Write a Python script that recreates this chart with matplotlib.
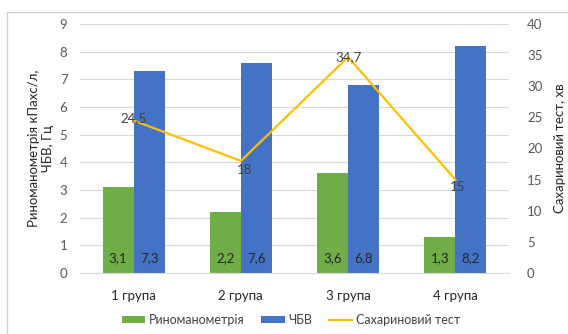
import numpy as np
import matplotlib.pyplot as plt
from matplotlib.patches import Rectangle

groups = ['1 група', '2 група', '3 група', '4 група']
rino = [3.1, 2.2, 3.6, 1.3]
chbv = [7.3, 7.6, 6.8, 8.2]
sakh = [24.5, 18, 34.7, 15]

green = '#70AD47'
blue = '#4472C4'
gold = '#FFC000'
txt = '#595959'

plt.rcParams['font.family'] = ['Lato', 'DejaVu Sans']
plt.rcParams['font.size'] = 9

fig = plt.figure(figsize=(5.68, 3.34), dpi=100)
fig.patches.append(Rectangle((7 / 568, -0.1), 1.2, (334 - 12) / 334 + 0.1,
                             transform=fig.transFigure, fill=False,
                             edgecolor='#d0d0d0', linewidth=1))

ax = fig.add_axes([80 / 568, 61 / 334, 429 / 568, 249 / 334])
x = np.arange(len(groups))
w = 0.29

b1 = ax.bar(x - w / 2, rino, w, color=green, label='Риноманометрія', zorder=2)
b2 = ax.bar(x + w / 2, chbv, w, color=blue, label='ЧБВ', zorder=2)
for bars, vals in ((b1, rino), (b2, chbv)):
    for r, v in zip(bars, vals):
        ax.text(r.get_x() + r.get_width() / 2, 0.55, f'{v}'.replace('.', ','),
                ha='center', va='center', color='#262626', fontsize=9.5, zorder=5)

ax.set_xlim(-0.5, 3.5)
ax.set_ylim(0, 9)
ax.set_yticks(range(10))
ax.set_xticks(x)
ax.set_xticklabels(groups, fontsize=9.5, color='#262626')
ax.grid(axis='y', color='#d9d9d9', linewidth=0.8, zorder=0)
ax.set_axisbelow(True)
for s in ('top', 'right', 'left'):
    ax.spines[s].set_visible(False)
ax.spines['bottom'].set_color('#d9d9d9')
ax.tick_params(axis='both', length=0, colors=txt, labelsize=9.5)
ax.tick_params(axis='x', pad=12, labelcolor='#262626')
ax.tick_params(axis='y', pad=9)
ax.set_ylabel('Риноманометрія кПахс/л,\nЧБВ, Гц', color='#262626', fontsize=9.5, labelpad=4)

ax2 = ax.twinx()
ln, = ax2.plot(x, sakh, color=gold, linewidth=1.6, label='Сахариновий тест', zorder=3)
ax2.set_ylim(0, 40)
ax2.set_yticks(range(0, 41, 5))
for s in ('top', 'right', 'left', 'bottom'):
    ax2.spines[s].set_visible(False)
ax2.tick_params(axis='y', length=0, colors=txt, labelsize=9.5, pad=13)
ax2.set_ylabel('Сахариновий тест, хв', color='#262626', fontsize=9.5, labelpad=8)
offs = [(0, 0.4), (0.03, -1.4), (0, 0), (0.02, -1.2)]
for xi, v, (dx, dy) in zip(x, sakh, offs):
    ax2.text(xi + dx, v + dy, f'{v}'.replace('.', ','), ha='center', va='center',
             color='#404040', fontsize=9.5, zorder=6)

fig.legend([b1, b2, ln], ['Риноманометрія', 'ЧБВ', 'Сахариновий тест'],
           loc='center', bbox_to_anchor=(291 / 568, 1 - 320 / 334), ncol=3,
           frameon=False, fontsize=9, handlelength=1.9, handleheight=0.55,
           columnspacing=1.3, handletextpad=0.3, labelcolor='#404040')

fig.savefig('out.png', dpi=100)
